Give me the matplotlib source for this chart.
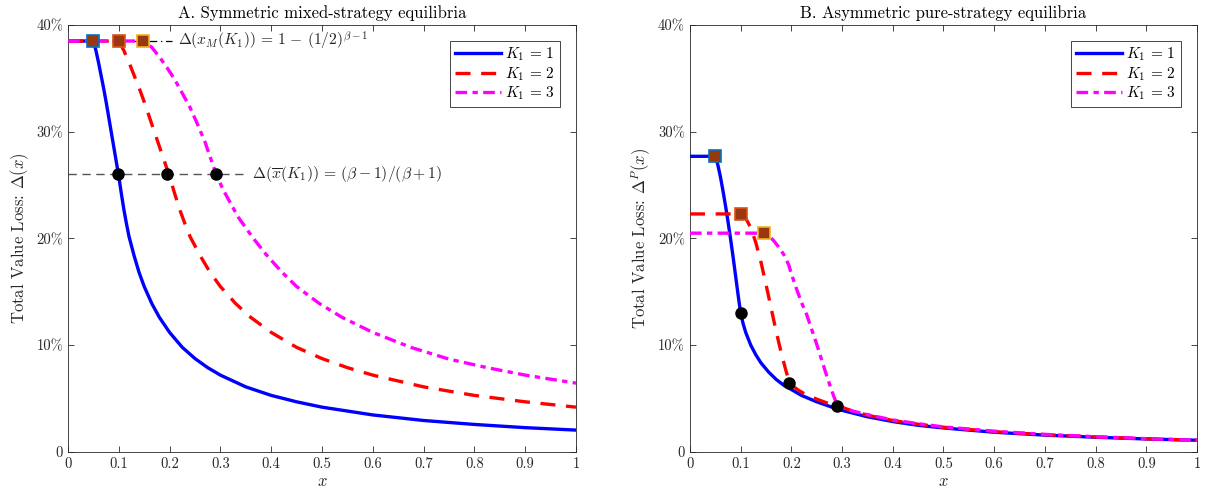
import matplotlib
matplotlib.use("Agg")
import matplotlib.pyplot as plt

plt.rcParams['font.family'] = ['cmr10', 'DejaVu Serif']
plt.rcParams['mathtext.fontset'] = 'cm'
plt.rcParams['axes.unicode_minus'] = False

# ---- panel A: symmetric mixed-strategy equilibria (values in %)
a_x1 = [0, 0.05, 0.055, 0.06, 0.065, 0.07, 0.075, 0.08, 0.085, 0.09, 0.095, 0.1,
        0.105, 0.11, 0.115, 0.12, 0.13, 0.14, 0.15, 0.165, 0.18, 0.2, 0.225, 0.25,
        0.275, 0.3, 0.35, 0.4, 0.45, 0.5, 0.6, 0.7, 0.8, 0.9, 1.0]
a_y1 = [38.5, 38.5, 37.6, 36.5, 35.3, 34.1, 32.8, 31.4, 30.0, 28.6, 27.2, 25.8,
        24.2, 22.7, 21.4, 20.2, 18.4, 16.8, 15.5, 13.9, 12.6, 11.2, 9.8, 8.75,
        7.9, 7.2, 6.1, 5.3, 4.7, 4.2, 3.47, 2.95, 2.58, 2.28, 2.05]
a_x2 = [0, 0.1, 0.11, 0.12, 0.13, 0.14, 0.15, 0.16, 0.17, 0.18, 0.19, 0.2,
        0.21, 0.22, 0.23, 0.24, 0.26, 0.28, 0.3, 0.33, 0.36, 0.4, 0.45, 0.5,
        0.55, 0.6, 0.7, 0.8, 0.9, 1.0]
a_y2 = [38.5, 38.5, 37.6, 36.5, 35.3, 34.1, 32.8, 31.4, 30.0, 28.6, 27.2, 25.8,
        24.2, 22.7, 21.4, 20.2, 18.4, 16.8, 15.5, 13.9, 12.6, 11.2, 9.8, 8.75,
        7.9, 7.2, 6.1, 5.3, 4.7, 4.2]
a_x3 = [0, 0.147, 0.165, 0.18, 0.195, 0.21, 0.225, 0.24, 0.255, 0.27, 0.28, 0.292,
        0.305, 0.32, 0.335, 0.35, 0.365, 0.39, 0.42, 0.45, 0.495, 0.54, 0.6, 0.675,
        0.75, 0.825, 0.9, 1.0]
a_y3 = [38.5, 38.5, 37.9, 37.0, 36.0, 34.9, 33.6, 32.3, 30.7, 29.0, 27.6, 26.0,
        24.6, 23.3, 22.0, 21.0, 20.0, 18.5, 16.9, 15.5, 13.9, 12.6, 11.2, 9.8,
        8.7, 7.9, 7.2, 6.45]
a_sq_x = [0.05, 0.1, 0.147]
a_sq_y = [38.5, 38.5, 38.5]
a_dot_x = [0.099, 0.195, 0.292]
a_dot_y = [26.0, 26.0, 26.0]
a_top = 38.5      # 1-(1/2)^(beta-1)
a_mid = 26.0      # (beta-1)/(beta+1)

# ---- panel B: asymmetric pure-strategy equilibria (values in %)
b_x1 = [0, 0.05, 0.055, 0.06, 0.065, 0.07, 0.075, 0.08, 0.085, 0.09, 0.095, 0.1,
        0.105, 0.11, 0.115, 0.12, 0.13, 0.14, 0.155, 0.17, 0.185, 0.2, 0.22, 0.25,
        0.28, 0.3, 0.35, 0.4, 0.45, 0.5, 0.6, 0.7, 0.8, 0.9, 1.0]
b_y1 = [27.7, 27.7, 26.9, 25.8, 24.5, 23.1, 21.6, 20.0, 18.3, 16.5, 14.7, 13.0,
        12.0, 11.2, 10.6, 10.0, 9.1, 8.35, 7.5, 6.8, 6.25, 5.85, 5.3, 4.7,
        4.2, 3.9, 3.3, 2.85, 2.5, 2.25, 1.85, 1.58, 1.38, 1.22, 1.1]
b_x2 = [0, 0.1, 0.11, 0.12, 0.13, 0.14, 0.15, 0.16, 0.17, 0.18, 0.19, 0.196,
        0.205, 0.215, 0.23, 0.25, 0.27, 0.293, 0.32, 0.35, 0.4, 0.45, 0.5, 0.6,
        0.7, 0.8, 0.9, 1.0]
b_y2 = [22.3, 22.3, 21.9, 21.0, 19.6, 17.8, 15.7, 13.5, 11.3, 9.3, 7.5, 6.6,
        6.1, 5.75, 5.35, 4.95, 4.6, 4.3, 3.85, 3.45, 2.95, 2.6, 2.32, 1.9,
        1.62, 1.41, 1.24, 1.1]
b_x3 = [0, 0.147, 0.155, 0.165, 0.175, 0.185, 0.195, 0.2, 0.21, 0.22, 0.23, 0.24,
        0.25, 0.26, 0.27, 0.28, 0.29, 0.3, 0.32, 0.35, 0.4, 0.45, 0.5, 0.6, 0.7,
        0.8, 0.9, 1.0]
b_y3 = [20.5, 20.5, 20.3, 19.8, 19.2, 18.5, 17.5, 16.7, 15.3, 14.0, 12.9, 11.5,
        10.1, 8.6, 7.1, 5.7, 4.4, 4.15, 3.85, 3.5, 3.0, 2.65, 2.35, 1.95, 1.65,
        1.43, 1.25, 1.1]
b_sq_x = [0.05, 0.1, 0.147]
b_sq_y = [27.7, 22.3, 20.5]
b_dot_x = [0.1, 0.195, 0.29]
b_dot_y = [13.0, 6.5, 4.3]

labels = [r'$K_1\,=\,1$', r'$K_1\,=\,2$', r'$K_1\,=\,3$']
x_ticks = [0, 0.1, 0.2, 0.3, 0.4, 0.5, 0.6, 0.7, 0.8, 0.9, 1]
x_ticklabels = ['0', '0.1', '0.2', '0.3', '0.4', '0.5', '0.6', '0.7', '0.8', '0.9', '1']
y_ticks = [0, 10, 20, 30, 40]
y_ticklabels = ['0', '10%', '20%', '30%', '40%']

sq_edges = ['#0072BD', '#D95319', '#EDB120']
sq_face = '#993810'
axcol = '#262626'

fig = plt.figure(figsize=(12.06, 4.98), dpi=100)
axA = fig.add_axes([0.0564, 0.0924, 0.4212, 0.8574])
axB = fig.add_axes([0.5721, 0.0924, 0.4204, 0.8574])


def draw_curves(ax, xs, ys):
    ax.plot(xs[0], ys[0], color='#0000FF', lw=2.4, ls='-', label=labels[0], zorder=3)
    ax.plot(xs[1], ys[1], color='#FF0000', lw=2.4, ls=(0, (4.5, 3.2)), label=labels[1], zorder=3)
    ax.plot(xs[2], ys[2], color='#FF00FF', lw=2.4, ls=(0, (3.5, 1.6, 1.6, 1.6)),
            label=labels[2], zorder=3)


def draw_marks(ax, sx, sy, dx, dy):
    for i in range(3):
        ax.plot(sx[i], sy[i], 's', ms=8.5, mfc=sq_face, mec=sq_edges[i], mew=1.2, zorder=5)
    ax.plot(dx, dy, 'o', ms=8, color='k', zorder=5)


def style(ax, ylab, title):
    ax.set_xlim(0, 1)
    ax.set_ylim(0, 40)
    ax.set_xticks(x_ticks)
    ax.set_xticklabels(x_ticklabels)
    ax.set_yticks(y_ticks)
    ax.set_yticklabels(y_ticklabels)
    ax.tick_params(direction='in', top=True, right=True, length=4, width=0.6,
                   colors=axcol, labelsize=10.5, labelcolor=axcol)
    for sp in ax.spines.values():
        sp.set_color(axcol)
        sp.set_linewidth(0.6)
    ax.set_xlabel('$x$', fontsize=12, color=axcol, labelpad=2)
    ax.set_ylabel(ylab, fontsize=12, color=axcol, labelpad=4)
    ax.set_title(title, fontsize=12, color='k', pad=5)
    leg = ax.legend(loc='upper right', fontsize=11, handlelength=3.0, fancybox=False,
                    framealpha=1, edgecolor=axcol, borderpad=0.3, labelspacing=0.12,
                    handletextpad=0.3, borderaxespad=1.05)
    leg.get_frame().set_linewidth(0.6)


# panel A
axA.plot([0, 0.205], [a_top, a_top], color='k', lw=0.9, ls=(0, (6, 3, 1, 3)), zorder=2)
axA.plot([0, 0.35], [a_mid, a_mid], color='#555555', lw=1.0, ls=(0, (6, 4)), zorder=2)
draw_curves(axA, [a_x1, a_x2, a_x3], [a_y1, a_y2, a_y3])
draw_marks(axA, a_sq_x, a_sq_y, a_dot_x, a_dot_y)
axA.text(0.216, a_top, r'$\Delta(x_M(K_1))\,=\,1\,-\,(1/2)^{\beta-1}$', fontsize=11.2,
         va='center', ha='left', color=axcol)
axA.text(0.362, a_mid, r'$\Delta(\overline{x}(K_1))\,=\,(\beta-1)/(\beta+1)$', fontsize=11.3,
         va='center', ha='left', color=axcol)
style(axA, r'Total Value Loss: $\Delta(x)$', 'A. Symmetric mixed-strategy equilibria')

# panel B
draw_curves(axB, [b_x1, b_x2, b_x3], [b_y1, b_y2, b_y3])
draw_marks(axB, b_sq_x, b_sq_y, b_dot_x, b_dot_y)
style(axB, r'Total Value Loss: $\Delta^P(x)$', 'B. Asymmetric pure-strategy equilibria')

fig.savefig('out.png', dpi=100)
